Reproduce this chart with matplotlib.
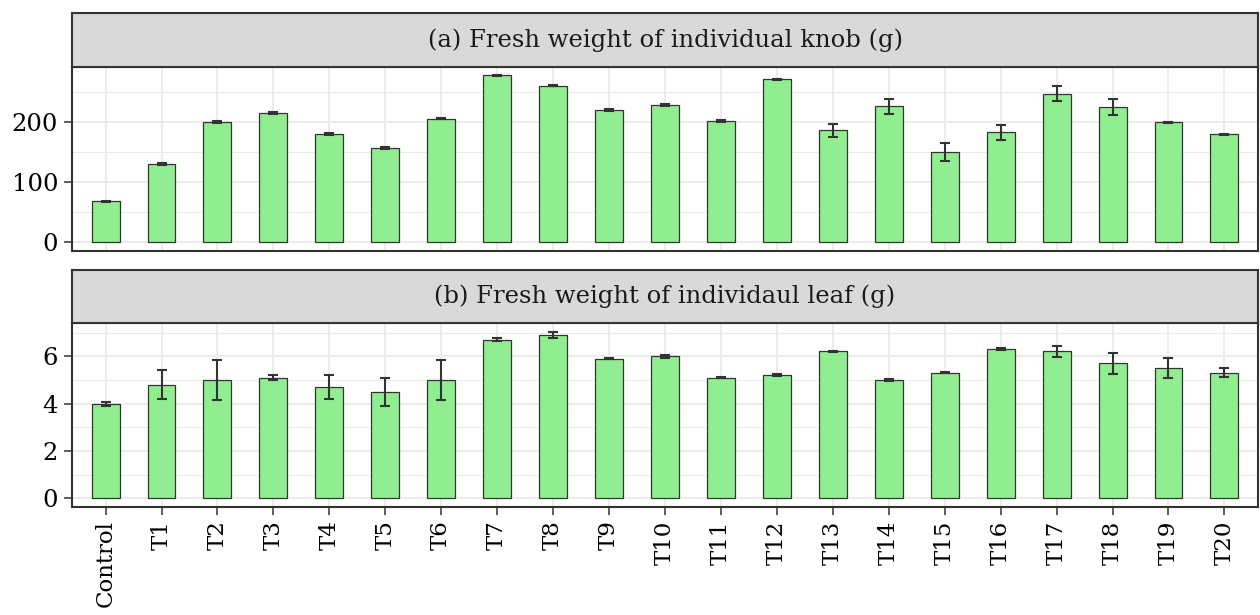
import numpy as np
import matplotlib
matplotlib.use('Agg')
import matplotlib.pyplot as plt
from matplotlib.ticker import MultipleLocator

# data
labels = ['Control'] + [f'T{i}' for i in range(1, 21)]
knob = [68, 130, 200, 214.5, 180, 157.5, 206, 278, 260.5, 220, 228.5,
        202, 271.5, 186.5, 226.5, 150, 183, 247.5, 225, 199.5, 180]
knob_se = [1, 1.5, 1.5, 1.5, 1.5, 1.5, 1.5, 1, 1, 1, 1,
           1, 1, 10.5, 12.5, 14.5, 12, 12.5, 12.7, 1, 1]
leaf = [4.0, 4.8, 5.0, 5.1, 4.7, 4.5, 5.0, 6.7, 6.9, 5.9, 6.0,
        5.1, 5.2, 6.2, 5.0, 5.3, 6.3, 6.2, 5.7, 5.5, 5.3]
leaf_se = [0.08, 0.6, 0.83, 0.1, 0.5, 0.6, 0.83, 0.05, 0.14, 0.03, 0.06,
           0.02, 0.05, 0.04, 0.06, 0.02, 0.04, 0.24, 0.43, 0.43, 0.19]
titles = ['(a) Fresh weight of individual knob (g)',
          '(b) Fresh weight of individaul leaf (g)']

plt.rcParams['font.family'] = ['DejaVu Serif']
W, H = 1260, 615
fig = plt.figure(figsize=(W / 100, H / 100), dpi=100)

dark = '#333333'
grid_c = '#ebebeb'


def box(x0, y0, x1, y1):
    # pixel box (top-left origin) -> figure fraction
    return [x0 / W, 1 - y1 / H, (x1 - x0) / W, (y1 - y0) / H]


def panel(rect, strip_rect, vals, se, title, major, minor, ylim, show_x):
    ax = fig.add_axes(box(*rect))
    x = np.arange(len(vals))
    ax.bar(x, vals, width=0.5, color='#90EE90', edgecolor=dark, linewidth=0.9, zorder=2)
    ax.errorbar(x, vals, yerr=se, fmt='none', ecolor=dark, elinewidth=1.5,
                capsize=3.6, capthick=1.5, zorder=3)
    ax.set_xlim(-0.6, len(vals) - 0.4)
    ax.set_ylim(*ylim)
    ax.yaxis.set_major_locator(MultipleLocator(major))
    ax.yaxis.set_minor_locator(MultipleLocator(minor))
    ax.set_xticks(x)
    ax.grid(True, which='major', color=grid_c, linewidth=1.3, zorder=0)
    ax.grid(True, which='minor', axis='y', color=grid_c, linewidth=0.7, zorder=0)
    ax.set_axisbelow(True)
    for s in ax.spines.values():
        s.set_color(dark)
        s.set_linewidth(1.5)
    ax.tick_params(axis='y', which='major', length=6, width=1.1, color=dark,
                   labelsize=17.5, pad=4)
    ax.tick_params(axis='y', which='minor', length=0)
    if show_x:
        ax.set_xticklabels(labels, rotation=90, fontsize=16.5)
        ax.tick_params(axis='x', length=6, width=1.1, color=dark, pad=4)
    else:
        ax.tick_params(axis='x', length=0, labelbottom=False)

    st = fig.add_axes(box(*strip_rect))
    st.set_facecolor('#d9d9d9')
    st.set_xticks([])
    st.set_yticks([])
    for s in st.spines.values():
        s.set_color(dark)
        s.set_linewidth(1.5)
    st.text(0.5, 0.5, title, ha='center', va='center', fontsize=17.5,
            color='#1a1a1a', transform=st.transAxes)
    return ax


panel((72, 66.5, 1258, 250.7), (72, 13, 1258, 66.5), knob, knob_se, titles[0],
      100, 50, (-13.9, 292.5), False)
panel((72, 323.3, 1258, 506.7), (72, 269.7, 1258, 323.3), leaf, leaf_se, titles[1],
      2, 1, (-0.35, 7.39), True)

fig.savefig('out.png', dpi=100)
